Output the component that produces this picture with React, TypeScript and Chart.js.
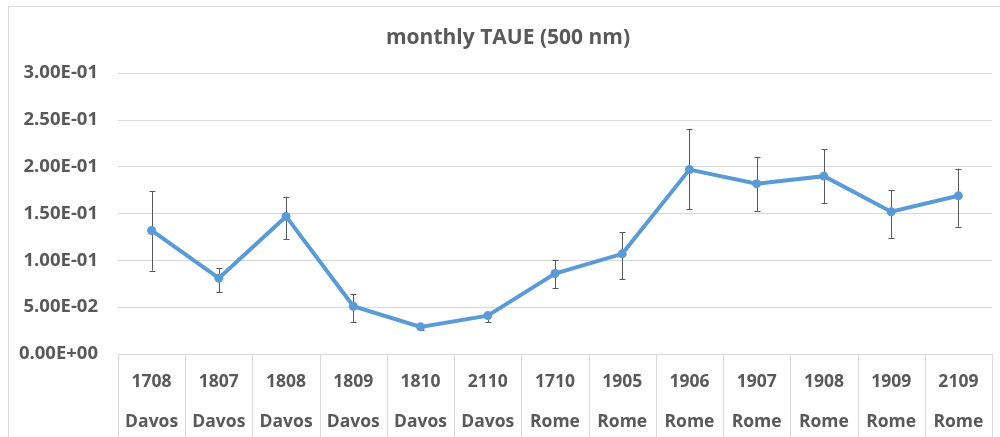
import React, { useEffect, useRef } from "react";
import { Chart, registerables } from "chart.js";

Chart.register(...registerables);

const years = ["1708", "1807", "1808", "1809", "1810", "2110", "1710", "1905", "1906", "1907", "1908", "1909", "2109"];
const sites = ["Davos", "Davos", "Davos", "Davos", "Davos", "Davos", "Rome", "Rome", "Rome", "Rome", "Rome", "Rome", "Rome"];
const taue = [0.132, 0.081, 0.147, 0.051, 0.029, 0.041, 0.086, 0.107, 0.197, 0.182, 0.190, 0.152, 0.169];
const errHigh = [0.174, 0.092, 0.168, 0.064, 0.031, 0.045, 0.100, 0.130, 0.240, 0.210, 0.219, 0.175, 0.198];
const errLow = [0.089, 0.066, 0.123, 0.034, 0.026, 0.034, 0.070, 0.080, 0.155, 0.153, 0.161, 0.124, 0.136];
const yTicks = [0, 0.05, 0.1, 0.15, 0.2, 0.25, 0.3];

const TEXT = "#595959";
const GRID = "#d9d9d9";
const FONT = "'Open Sans', sans-serif";

function fmtExp(v: number): string {
  const s = v.toExponential(2);
  const [m, e] = s.split("e");
  const sign = e.startsWith("-") ? "-" : "+";
  const digits = e.replace(/[+-]/, "").padStart(2, "0");
  return `${m}E${sign}${digits}`;
}

const extras = {
  id: "extras",
  afterLayout(chart: any) {
    if (chart.titleBlock) {
      chart.titleBlock.left = 24;
      chart.titleBlock.right = 992;
    }
  },
  beforeDatasetsDraw(chart: any) {
    const { ctx } = chart;
    const xs = chart.scales.x;
    const ys = chart.scales.y;
    ctx.save();
    ctx.strokeStyle = "#595959";
    ctx.lineWidth = 1;
    for (let i = 0; i < taue.length; i++) {
      const x = Math.round(xs.getPixelForValue(i)) + 0.5;
      const yt = ys.getPixelForValue(errHigh[i]);
      const yb = ys.getPixelForValue(errLow[i]);
      ctx.beginPath();
      ctx.moveTo(x, yt);
      ctx.lineTo(x, yb);
      ctx.moveTo(x - 3, Math.round(yt) + 0.5);
      ctx.lineTo(x + 3, Math.round(yt) + 0.5);
      ctx.moveTo(x - 3, Math.round(yb) + 0.5);
      ctx.lineTo(x + 3, Math.round(yb) + 0.5);
      ctx.stroke();
    }
    ctx.restore();
  },
  afterDraw(chart: any) {
    const { ctx, chartArea } = chart;
    const xs = chart.scales.x;
    const step = xs.getPixelForValue(1) - xs.getPixelForValue(0);
    ctx.save();
    ctx.strokeStyle = GRID;
    ctx.lineWidth = 1;
    ctx.beginPath();
    for (let i = 0; i <= years.length; i++) {
      const x = Math.round(xs.getPixelForValue(i) - step / 2) + 0.5;
      ctx.moveTo(x, chartArea.bottom);
      ctx.lineTo(x, chart.height);
    }
    ctx.stroke();
    ctx.restore();
  },
};

export default function App() {
  const ref = useRef<HTMLCanvasElement | null>(null);
  useEffect(() => {
    if (!ref.current) return;
    const chart = new Chart(ref.current, {
      type: "line",
      data: {
        labels: years.map((y, i) => [y, sites[i]]),
        datasets: [
          {
            data: taue,
            borderColor: "#5B9BD5",
            backgroundColor: "#5B9BD5",
            borderWidth: 4,
            pointRadius: 4.5,
            pointBorderWidth: 0,
            tension: 0,
          },
        ],
      },
      options: {
        animation: false,
        responsive: true,
        maintainAspectRatio: false,
        layout: { padding: { left: 8, right: 8, top: 0, bottom: 0 } },
        plugins: {
          legend: { display: false },
          tooltip: { enabled: false },
          title: {
            display: true,
            text: "monthly TAUE (500 nm)",
            color: TEXT,
            font: { family: FONT, size: 21, weight: "bold" },
            padding: { top: 25, bottom: 23 },
          },
        },
        scales: {
          x: {
            offset: true,
            grid: { display: true, drawOnChartArea: false, drawTicks: false },
            border: { display: false },
            ticks: {
              color: TEXT,
              font: { family: FONT, size: 17.5, weight: "bold", lineHeight: "40px" } as any,
              padding: 8,
              maxRotation: 0,
              autoSkip: false,
            },
            afterFit: (s: any) => {
              s.height = 83;
            },
          },
          y: {
            min: 0,
            max: 0.3,
            afterBuildTicks: (s: any) => {
              s.ticks = yTicks.map((v) => ({ value: v }));
            },
            grid: { color: GRID, drawTicks: false, lineWidth: 1 },
            border: { display: false },
            ticks: {
              color: TEXT,
              font: { family: FONT, size: 18.5, weight: "bold" },
              padding: 20,
              callback: (v: any) => fmtExp(Number(v)),
            },
            afterFit: (s: any) => {
              s.width = 110;
            },
          },
        },
      },
      plugins: [extras],
    });
    return () => chart.destroy();
  }, []);
  return (
    <div style={{ position: "fixed", left: 0, top: 0, width: 1000, height: 437, overflow: "hidden", background: "#fff" }}>
      <div style={{ position: "absolute", left: 8, top: 6, width: 1100, height: 600, border: `1px solid ${GRID}` }} />
      <div style={{ position: "absolute", left: 0, top: 0, width: 1000, height: 437 }}>
        <canvas ref={ref} />
      </div>
    </div>
  );
}
